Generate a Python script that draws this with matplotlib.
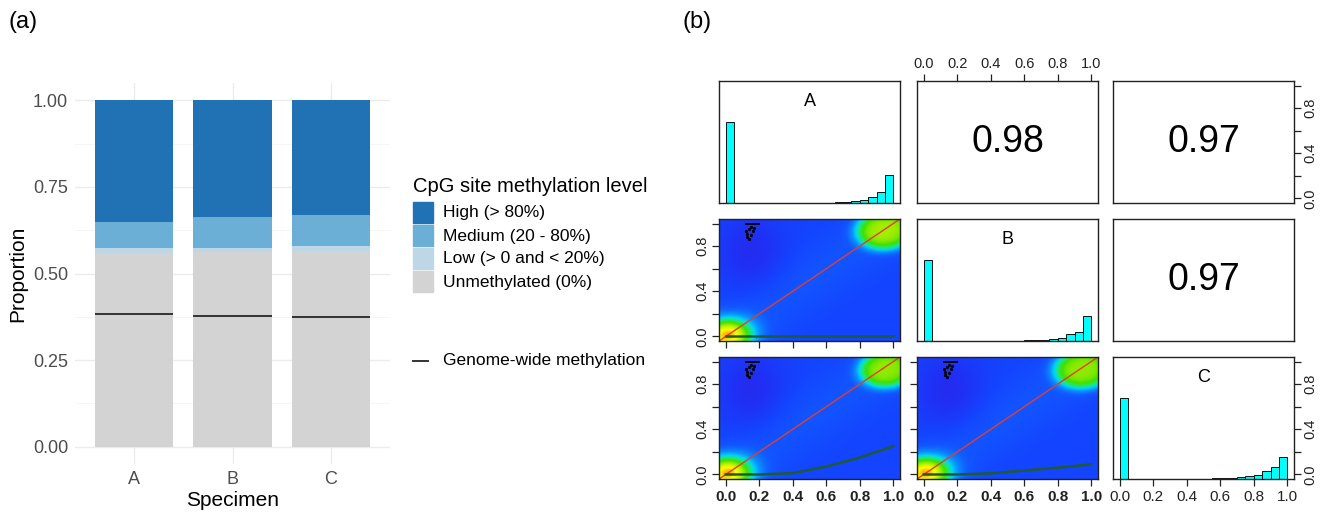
import numpy as np
import matplotlib.pyplot as plt
from matplotlib.colors import LinearSegmentedColormap
from matplotlib.patches import Rectangle

plt.rcParams['font.family'] = ['Liberation Sans', 'DejaVu Sans']

## data (a)
specimens = ['A', 'B', 'C']
unmeth = [0.558, 0.563, 0.566]
low = [0.015, 0.011, 0.013]
medium = [0.075, 0.088, 0.089]
high = [0.352, 0.338, 0.332]
genome_wide = [0.382, 0.378, 0.373]
level_names = ['High (> 80%)', 'Medium (20 - 80%)', 'Low (> 0 and < 20%)', 'Unmethylated (0%)']
level_cols = ['#2171b5', '#6baed6', '#bdd7e7', '#d3d3d3']

## data (b)
bin_edges = np.arange(0, 1.0001, 0.05)
hist_A = [1.0, 0.004, 0.002, 0.002, 0.002, 0.002, 0.002, 0.003, 0.003, 0.003,
          0.004, 0.005, 0.006, 0.008, 0.012, 0.02, 0.035, 0.075, 0.135, 0.34]
hist_B = [1.0, 0.004, 0.002, 0.002, 0.002, 0.002, 0.003, 0.003, 0.004, 0.004,
          0.005, 0.006, 0.007, 0.009, 0.012, 0.022, 0.035, 0.082, 0.107, 0.31]
hist_C = [1.0, 0.005, 0.003, 0.003, 0.003, 0.003, 0.003, 0.003, 0.004, 0.005,
          0.006, 0.007, 0.008, 0.012, 0.02, 0.033, 0.049, 0.094, 0.143, 0.265]
corr_AB = 0.98
corr_AC = 0.97
corr_BC = 0.97

# loess curves (x, y)
loess_x = [0.0, 0.2, 0.4, 0.6, 0.8, 1.0]
loess_BA = [0.0, 0.0, 0.0, 0.0, 0.0, 0.0]
loess_CA = [0.0, 0.0, 0.012, 0.07, 0.15, 0.25]
loess_CB = [0.0, 0.0, 0.01, 0.035, 0.06, 0.09]

# density blobs: (x, y, height, spread)
blobs_BA = [(0.01, 0.01, 0.68, 0.115), (0.95, 0.94, 0.50, 0.19)]
blobs_CA = [(0.01, 0.01, 0.68, 0.115), (0.96, 0.93, 0.48, 0.18)]
blobs_CB = [(0.01, 0.01, 0.68, 0.115), (0.95, 0.93, 0.48, 0.19)]

out_x = [0.12, 0.14, 0.15, 0.13, 0.16, 0.14, 0.17, 0.13, 0.15]
out_y = [0.93, 0.95, 0.9, 0.88, 0.93, 0.86, 0.96, 0.91, 0.97]

W, H = 1336, 512
fig = plt.figure(figsize=(W / 100, H / 100), dpi=100)


def px_axes(left, top, w, h):
    return fig.add_axes([left / W, 1 - (top + h) / H, w / W, h / H])


## (a) stacked bars
ax = px_axes(75, 83, 315, 381)
x = np.arange(1, 4)
ax.set_xlim(0.4, 3.6)
ax.set_ylim(-0.05, 1.05)
for yy in [0, 0.25, 0.5, 0.75, 1.0]:
    ax.axhline(yy, color='#ebebeb', lw=1.0, zorder=0)
for yy in [0.125, 0.375, 0.625, 0.875]:
    ax.axhline(yy, color='#f4f4f4', lw=0.6, zorder=0)
for xx in x:
    ax.axvline(xx, color='#ebebeb', lw=1.0, zorder=0)

bottom = np.zeros(3)
for vals, col in zip([unmeth, low, medium, high], level_cols[::-1]):
    ax.bar(x, vals, width=0.8, bottom=bottom, color=col, zorder=2)
    bottom += np.array(vals)
ax.hlines(genome_wide, x - 0.4, x + 0.4, color='#333333', lw=1.4, zorder=3)

ax.set_yticks([0, 0.25, 0.5, 0.75, 1.0])
ax.set_yticklabels(['0.00', '0.25', '0.50', '0.75', '1.00'])
ax.set_xticks(x)
ax.set_xticklabels(specimens)
ax.tick_params(length=0, labelsize=13, labelcolor='#4d4d4d', pad=5)
for s in ax.spines.values():
    s.set_visible(False)
ax.set_ylabel('Proportion', fontsize=15, labelpad=4)
ax.set_xlabel('Specimen', fontsize=15, labelpad=2)

## overlay for legend and panel labels
ov = fig.add_axes([0, 0, 1, 1])
ov.set_xlim(0, W)
ov.set_ylim(H, 0)
ov.axis('off')
ov.text(8, 22, '(a)', fontsize=17, va='center', ha='left')
ov.text(683, 22, '(b)', fontsize=17, va='center', ha='left')
ov.text(413, 186, 'CpG site methylation level', fontsize=14.5, va='center', ha='left')
key_top = [202, 225, 248, 271]
for kt, name, col in zip(key_top, level_names, level_cols):
    ov.add_patch(Rectangle((413, kt), 20, 21, color=col))
    ov.text(443, kt + 11, name, fontsize=12.5, va='center', ha='left')
ov.plot([413, 428], [361, 361], color='#333333', lw=1.4)
ov.text(443, 361, 'Genome-wide methylation', fontsize=12.5, va='center', ha='left')

## (b) pairs panels
col_left = [719, 917, 1113]
row_top = [81, 219, 357]
pw, ph = 181, 122
lim = (-0.04, 1.04)
ticks = np.arange(0, 1.01, 0.2)
tick_lbls = ['0.0', '0.2', '0.4', '0.6', '0.8', '1.0']
y_lbls = ['0.0', '', '0.4', '', '0.8', '']

cmap = LinearSegmentedColormap.from_list('dens', [
    (0.0, '#3520e6'), (0.1, '#2030f4'), (0.2, '#1444ff'), (0.3, '#1258ff'),
    (0.42, '#0a90ff'), (0.52, '#00d8f0'), (0.6, '#20e870'), (0.68, '#40e000'),
    (0.8, '#b8f000'), (0.9, '#ffff00'), (1.0, '#ff7000')])

gx, gy = np.meshgrid(np.linspace(-0.04, 1.04, 220), np.linspace(-0.04, 1.04, 220))


def frame(a):
    for s in a.spines.values():
        s.set_color('#222222')
        s.set_linewidth(1.0)
    a.set_xticks([])
    a.set_yticks([])


def hist_panel(a, h, name):
    a.set_xlim(lim)
    a.set_ylim(0, 1.5)
    a.bar(bin_edges[:-1], h, width=0.05, align='edge', color='#00ffff',
          edgecolor='#111111', lw=0.7)
    a.text(0.5, 1.25, name, fontsize=13, ha='center', va='center')
    frame(a)


def text_panel(a, r):
    a.set_xlim(lim)
    a.set_ylim(lim)
    a.text(0.5, 0.5, f'{r:.2f}', fontsize=27, ha='center', va='center')
    frame(a)


def dens_panel(a, blobs, ly):
    f = 0.2 + 0.08 * np.exp(-((gy - gx) / 0.3) ** 2)
    f -= 0.12 * np.exp(-((gx - 0.15) / 0.2) ** 2 - ((gy - 0.75) / 0.35) ** 2)
    bx, by, bh, bs = blobs[0]
    f += bh * np.exp(-((gx - bx) ** 2 + (gy - by) ** 2) / (2 * bs ** 2))
    bx, by, bh, bs = blobs[1]
    r = np.sqrt((gx - bx) ** 2 + (gy - by) ** 2)
    f += bh * np.exp(-(r / bs) ** 4)
    a.imshow(np.clip(f, 0, 1), extent=[-0.04, 1.04, -0.04, 1.04], origin='lower',
             cmap=cmap, vmin=0, vmax=1, aspect='auto', interpolation='bilinear')
    a.plot(lim, lim, color='#e0402a', lw=1.0)
    a.plot(loess_x, ly, color='#1e5a32', lw=1.8)
    a.plot(out_x, out_y, ls='none', marker='.', ms=2.5, color='black')
    a.plot([0.12, 0.2], [1.0, 1.0], color='black', lw=1.3)
    a.set_xlim(lim)
    a.set_ylim(lim)
    frame(a)


axs = {}
for i in range(3):
    for j in range(3):
        axs[i, j] = px_axes(col_left[j], row_top[i], pw, ph)

hist_panel(axs[0, 0], hist_A, 'A')
hist_panel(axs[1, 1], hist_B, 'B')
hist_panel(axs[2, 2], hist_C, 'C')
text_panel(axs[0, 1], corr_AB)
text_panel(axs[0, 2], corr_AC)
text_panel(axs[1, 2], corr_BC)
dens_panel(axs[1, 0], blobs_BA, loess_BA)
dens_panel(axs[2, 0], blobs_CA, loess_CA)
dens_panel(axs[2, 1], blobs_CB, loess_CB)

tk = dict(length=5, width=0.9, color='#222222', labelcolor='#222222')

# top axis of (1,2)
a = axs[0, 1]
a.xaxis.tick_top()
a.set_xticks(ticks)
a.set_xticklabels(tick_lbls)
a.tick_params(axis='x', labelsize=10.5, pad=2, **tk)

# right axes (1,3) and (3,3)
for key in [(0, 2), (2, 2)]:
    a2 = axs[key].twinx()
    a2.set_ylim(lim)
    for s in a2.spines.values():
        s.set_visible(False)
    a2.set_yticks(ticks)
    a2.set_yticklabels(y_lbls, rotation=90, va='center')
    a2.tick_params(axis='y', labelsize=10.5, pad=2, **tk)

# left axes (2,1), (3,1) and ticks on (3,2)
for key in [(1, 0), (2, 0)]:
    a = axs[key]
    a.set_yticks(ticks)
    a.set_yticklabels(y_lbls, rotation=90, va='center')
    a.tick_params(axis='y', labelsize=10.5, pad=2, **tk)
axs[2, 1].set_yticks(ticks)
axs[2, 1].set_yticklabels([])
axs[2, 1].tick_params(axis='y', **tk)

# bottom ticks
axs[1, 0].set_xticks(ticks)
axs[1, 0].set_xticklabels([])
axs[1, 0].tick_params(axis='x', **tk)
for j in range(3):
    a = axs[2, j]
    a.set_xticks(ticks)
    a.set_xticklabels(tick_lbls, fontweight='bold' if j < 2 else 'normal')
    a.tick_params(axis='x', labelsize=11, pad=3, **tk)

fig.savefig('out.png', dpi=100)
